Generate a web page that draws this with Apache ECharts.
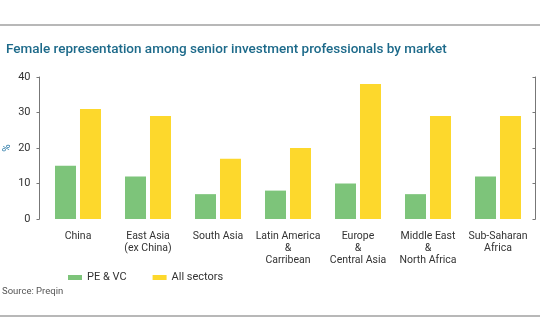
<!DOCTYPE html>
<html>
<head>
<meta charset="utf-8">
<script src="https://cdn.jsdelivr.net/npm/echarts@6/dist/echarts.min.js"></script>
<style>html,body{margin:0;padding:0;background:#fff;}#c{width:540px;height:334px;}</style>
</head>
<body>
<div id="c"></div>
<script>
var categories = ["China", "East Asia\n(ex China)", "South Asia", "Latin America\n&\nCarribean", "Europe\n&\nCentral Asia", "Middle East\n&\nNorth Africa", "Sub-Saharan\nAfrica"];
var peVc = [15, 12, 7, 8, 10, 7, 12];
var allSectors = [31, 29, 17, 20, 38, 29, 29];
var yTicks = [0, 10, 20, 30, 40];

var chart = echarts.init(document.getElementById('c'), null, {renderer: 'canvas'});
var font = 'Roboto, "Liberation Sans", sans-serif';
chart.setOption({
  animation: false,
  backgroundColor: '#fff',
  title: {
    text: 'Female representation among senior investment professionals by market',
    left: 1, top: 38,
    textStyle: {fontFamily: font, fontSize: 13.5, fontWeight: 500, color: '#1d6a8a'}
  },
  graphic: [
    {type: 'line', shape: {x1: 0, y1: 25, x2: 540, y2: 25}, style: {stroke: '#a0a0a0', lineWidth: 1.5}},
    {type: 'line', shape: {x1: 0, y1: 316, x2: 540, y2: 316}, style: {stroke: '#a0a0a0', lineWidth: 1.5}},
    {type: 'text', left: 2, top: 287, style: {text: 'Source: Preqin', fontFamily: font, fontSize: 9.5, fill: '#555'}},
    {type: 'text', x: 7, y: 148, rotation: Math.PI / 2,
      style: {text: '%', fontFamily: font, fontSize: 10, fill: '#2a7aa8', align: 'center', verticalAlign: 'middle'}}
  ],
  legend: {
    left: 63, top: 267,
    itemWidth: 14, itemHeight: 5, itemGap: 26,
    icon: 'rect',
    textStyle: {fontFamily: font, fontSize: 11, color: '#333'},
    data: ['PE & VC', 'All sectors']
  },
  grid: {left: 43, right: 7, top: 77, bottom: 334 - 219, containLabel: false, outerBoundsMode: 'none'},
  xAxis: {
    type: 'category',
    data: categories,
    axisLine: {show: false},
    axisTick: {show: false},
    axisLabel: {interval: 0, margin: 11, fontFamily: font, fontSize: 10.5, lineHeight: 12, color: '#333', align: 'center'}
  },
  yAxis: [
    {
      type: 'value', min: 0, max: 40, interval: 10,
      offset: 3.5,
      axisLine: {show: true, lineStyle: {color: '#777', width: 1}},
      axisTick: {show: true, length: 3, lineStyle: {color: '#777'}},
      axisLabel: {margin: 9, fontFamily: font, fontSize: 11, color: '#333',
        formatter: function (v) { return yTicks.indexOf(v) >= 0 ? String(v) : ''; }},
      splitLine: {show: false}
    },
    {
      type: 'value', min: 0, max: 40, interval: 10, position: 'right',
      offset: 2.5,
      axisLine: {show: true, lineStyle: {color: '#777', width: 1}},
      axisTick: {show: true, inside: true, length: 3, lineStyle: {color: '#777'}},
      axisLabel: {show: false},
      splitLine: {show: false}
    }
  ],
  series: [
    {name: 'PE & VC', type: 'bar', data: peVc, barWidth: 21, barGap: '19%', itemStyle: {color: '#7dc47a'}},
    {name: 'All sectors', type: 'bar', data: allSectors, barWidth: 21, barGap: '19%', itemStyle: {color: '#fdd82c'}}
  ]
});
</script>
</body>
</html>
